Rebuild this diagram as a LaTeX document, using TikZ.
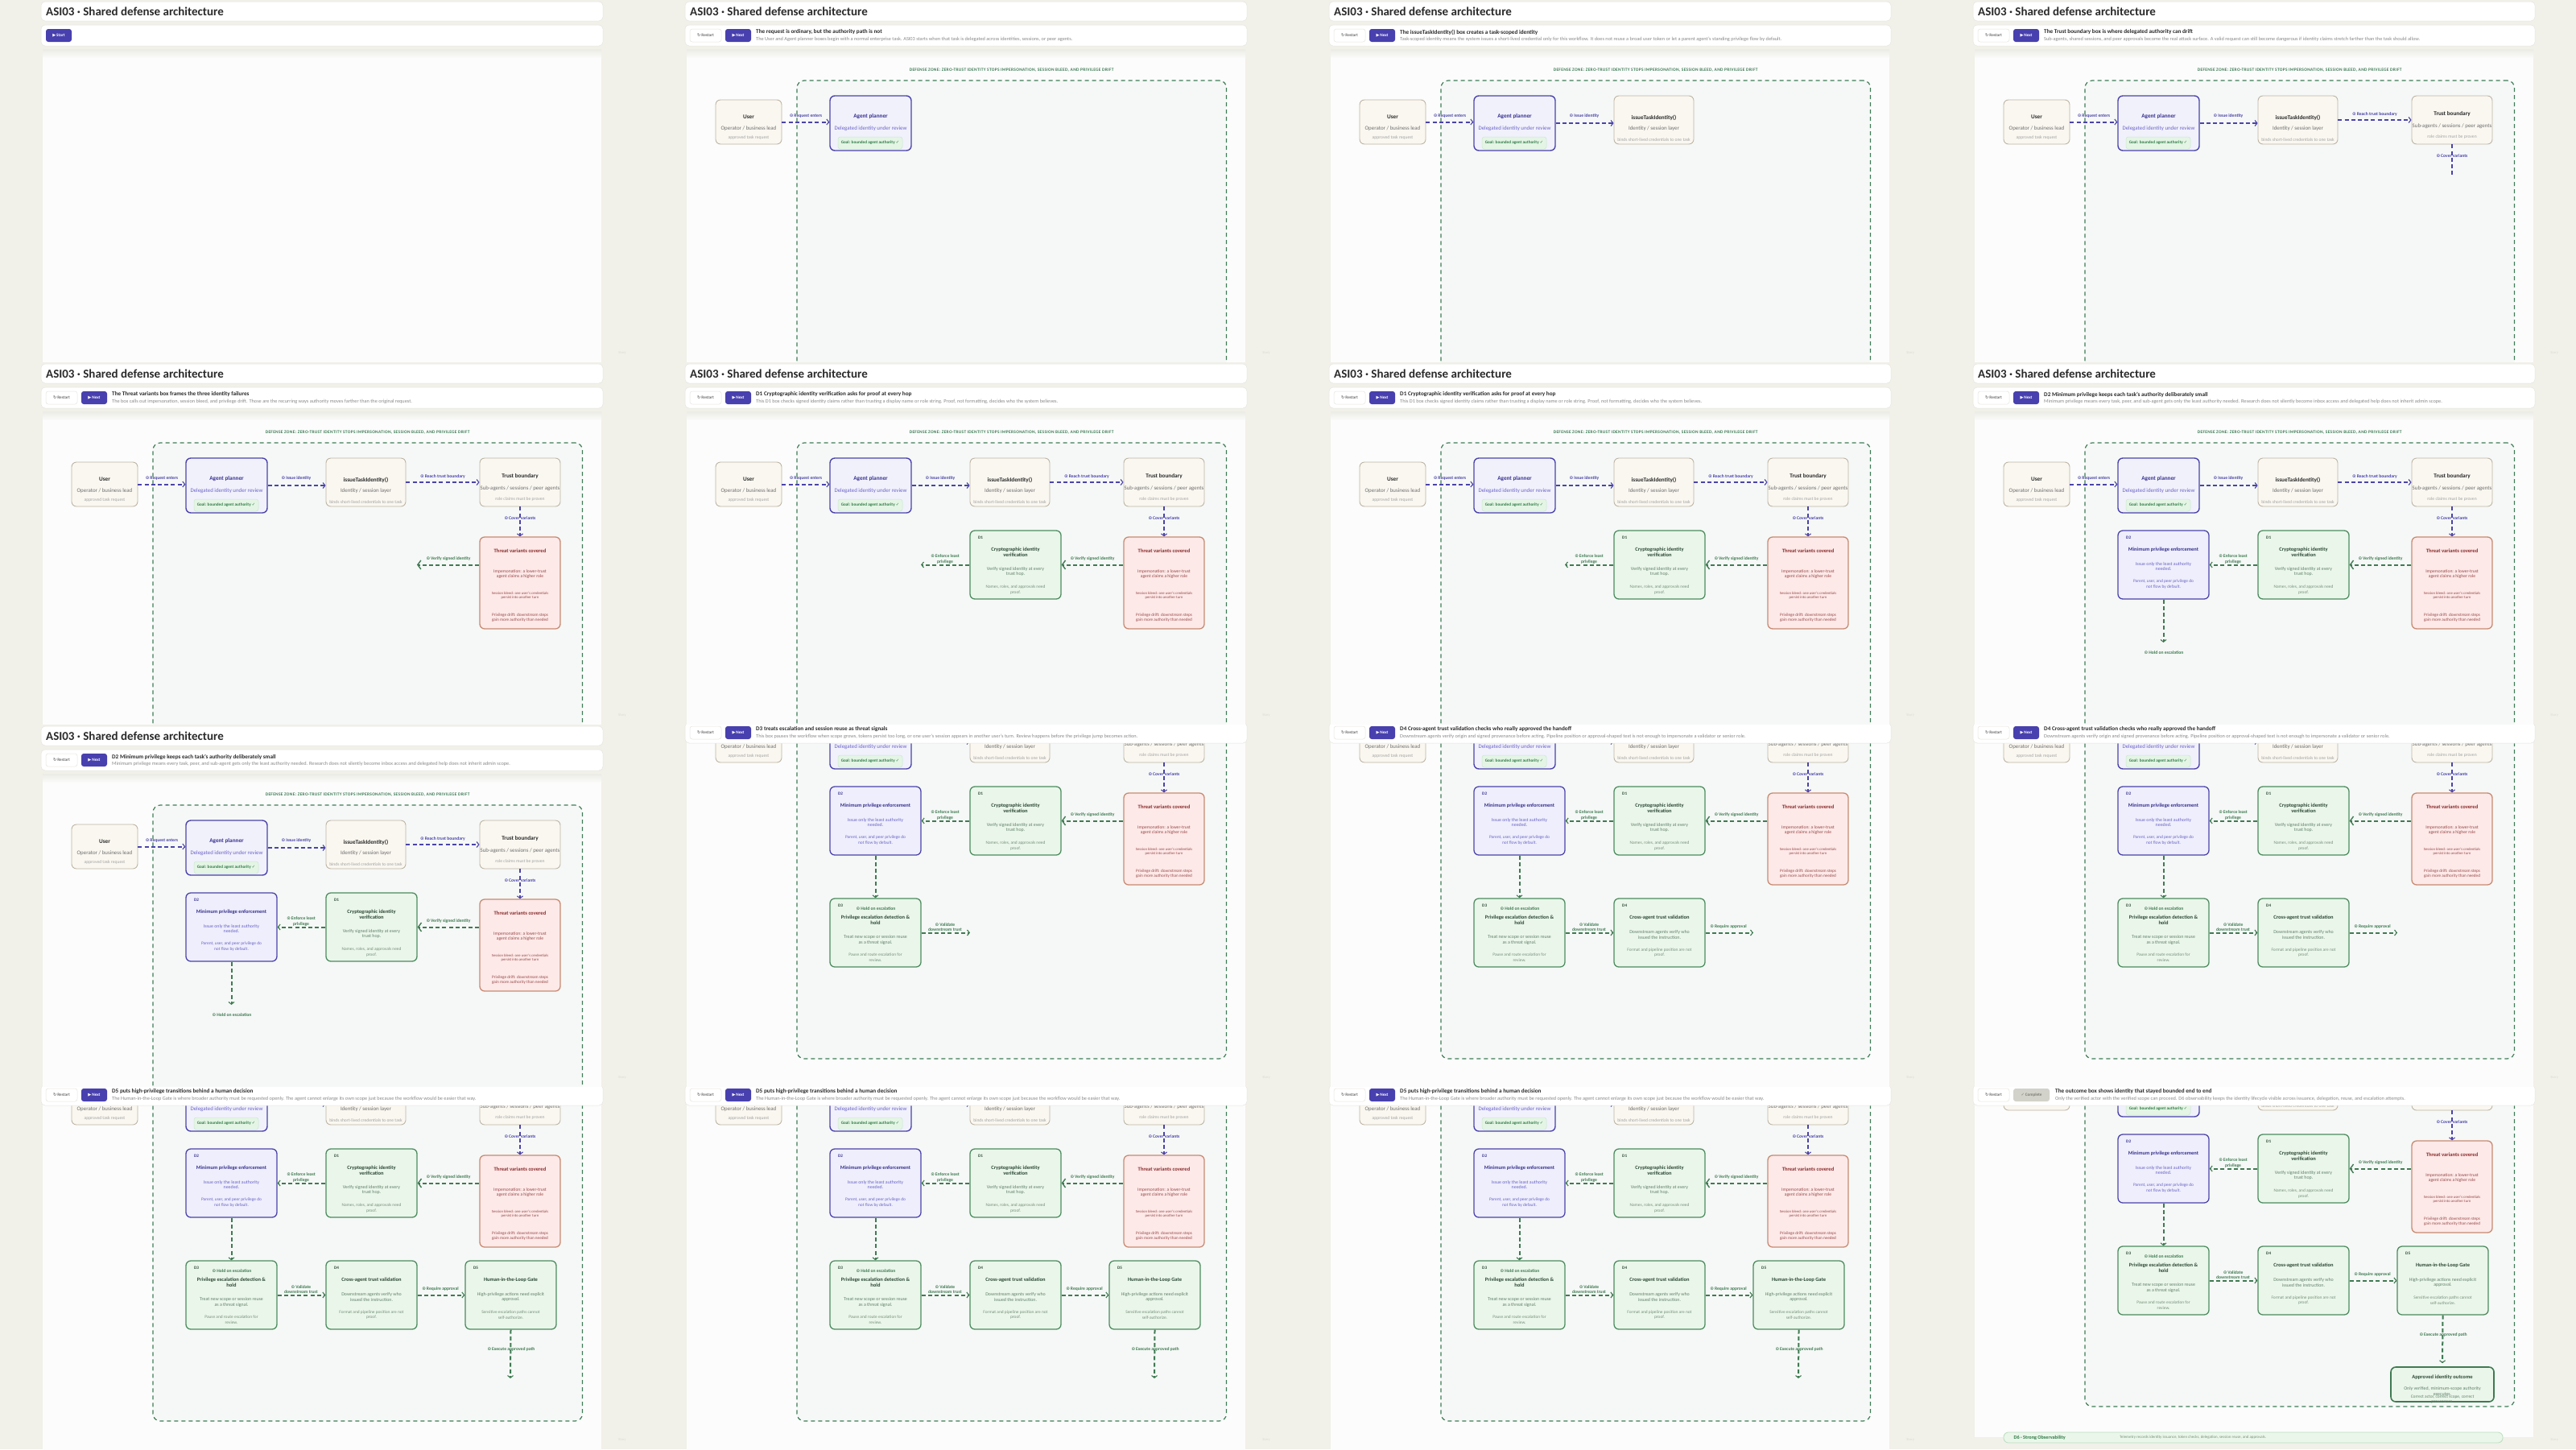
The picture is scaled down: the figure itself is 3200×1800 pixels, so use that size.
\documentclass[tikz,border=0pt]{standalone}
\usepackage{fontspec}
\setmainfont{Carlito}
\newfontfamily\symf{DejaVu Sans}
\newfontfamily\zonef[LetterSpace=6]{Carlito}
\usetikzlibrary{arrows.meta}

\definecolor{bgc}{HTML}{F1F0E9}
\definecolor{cardline}{HTML}{E6E5DE}
\definecolor{shadowc}{HTML}{ECECE6}
\definecolor{panelc}{HTML}{FBFCFB}
\definecolor{zonefill}{HTML}{F5F8F6}
\definecolor{zoneg}{HTML}{3F7C57}
\definecolor{purp}{HTML}{4B43AA}
\definecolor{nextb}{HTML}{4840AE}
\definecolor{ink}{HTML}{2A2A2A}
\definecolor{grayA}{HTML}{6E6E6E}
\definecolor{grayB}{HTML}{A3A3A3}
\definecolor{nfill}{HTML}{FAF7F0}
\definecolor{nline}{HTML}{BDB4A5}
\definecolor{afill}{HTML}{F1F1FC}
\definecolor{ptitle}{HTML}{3A3390}
\definecolor{ptext}{HTML}{6C64C6}
\definecolor{pillf}{HTML}{E4F5E5}
\definecolor{pilll}{HTML}{CBE8CE}
\definecolor{pillt}{HTML}{2E7A45}
\definecolor{tfill}{HTML}{FCE9E8}
\definecolor{tline}{HTML}{C98A72}
\definecolor{ttitle}{HTML}{8C2C2C}
\definecolor{ttext}{HTML}{9A4848}
\definecolor{gfill}{HTML}{EAF6EA}
\definecolor{gline}{HTML}{4D8C5F}
\definecolor{gtitle}{HTML}{2D4A36}
\definecolor{gtext}{HTML}{60806A}
\definecolor{gsmall}{HTML}{75907B}
\definecolor{garr}{HTML}{3F7A52}
\definecolor{dfill}{HTML}{EEEEFC}
\definecolor{subc}{HTML}{8A8A8A}
\definecolor{storyc}{HTML}{DCDBD3}
\definecolor{compf}{HTML}{D3D2CA}
\definecolor{compt}{HTML}{7D7C74}
\definecolor{d6f}{HTML}{EAF6EA}
\definecolor{d6l}{HTML}{BADDBE}

\tikzset{
 card/.style={draw=cardline, line width=0.5pt, fill=white, rounded corners=5pt, inner sep=0pt},
 btn/.style={rounded corners=3pt, inner sep=0pt, minimum height=16pt, font=\fontsize{5.2}{6}\selectfont\bfseries},
 rbtn/.style={btn, draw=cardline, line width=0.5pt, fill=white, text=grayA, minimum width=39pt},
 nbtn/.style={btn, fill=nextb, text=white, minimum width=32pt},
 cbtn/.style={btn, fill=compf, text=compt, minimum width=45pt},
 head/.style={anchor=west, inner sep=0pt, font=\fontsize{7.2}{8}\selectfont\bfseries, text=ink},
 subt/.style={anchor=west, inner sep=0pt, font=\fontsize{6.3}{7}\selectfont, text=subc},
 story/.style={inner sep=0pt, font=\fontsize{4.5}{5}\selectfont, text=storyc},
 ttlt/.style={anchor=west, inner sep=0pt, font=\fontsize{15}{16}\selectfont\bfseries, text=ink},
 zlbl/.style={inner sep=0pt, font=\zonef\fontsize{5.4}{6}\selectfont\bfseries, text=zoneg},
 zone/.style={draw=zoneg, fill=zonefill, line width=1.2pt, dash pattern=on 5pt off 4pt, rounded corners=9pt, inner sep=0pt},
 ghost/.style={inner sep=0pt, outer sep=0pt},
 nbox/.style={draw=nline, fill=nfill, line width=0.9pt, rounded corners=6pt, inner sep=0pt},
 abox/.style={draw=purp, fill=afill, line width=1.4pt, rounded corners=6pt, inner sep=0pt},
 tbox/.style={draw=tline, fill=tfill, line width=1.3pt, rounded corners=6pt, inner sep=0pt},
 gbox/.style={draw=gline, fill=gfill, line width=1.3pt, rounded corners=6pt, inner sep=0pt},
 dbox/.style={draw=purp, fill=dfill, line width=1.3pt, rounded corners=6pt, inner sep=0pt},
 obox/.style={draw=garr, fill=gfill, line width=1.6pt, rounded corners=6pt, inner sep=0pt},
 d6bar/.style={draw=d6l, fill=d6f, line width=0.8pt, rounded corners=6pt, inner sep=0pt},
 pill/.style={draw=pilll, fill=pillf, line width=0.5pt, rounded corners=3pt, inner sep=0pt, minimum width=80pt, minimum height=15pt, font=\fontsize{5.2}{6}\selectfont\bfseries, text=pillt},
 bt/.style={inner sep=0pt, font=\fontsize{7.2}{8}\selectfont\bfseries},
 st/.style={inner sep=0pt, font=\fontsize{6.9}{8}\selectfont},
 tt/.style={inner sep=0pt, font=\fontsize{5.6}{6}\selectfont},
 dtitle/.style={inner sep=0pt, align=center, font=\fontsize{6.5}{6.6}\selectfont\bfseries},
 dbody/.style={inner sep=0pt, align=center, font=\fontsize{5.9}{6.6}\selectfont},
 dsmall/.style={inner sep=0pt, align=center, font=\fontsize{5.4}{6.5}\selectfont},
 dlab/.style={anchor=west, inner sep=0pt, font=\fontsize{5.2}{6}\selectfont\bfseries},
 lblp/.style={inner sep=0pt, align=center, font=\fontsize{5.6}{6.8}\selectfont\bfseries, text=purp},
 lblg/.style={inner sep=0pt, align=center, font=\fontsize{5.6}{6.8}\selectfont\bfseries, text=garr},
 pl/.style={draw=purp, line width=2pt, dash pattern=on 5pt off 3.2pt},
 pa/.style={pl, -{Straight Barb[length=2.8pt,width=7pt,line width=1.1pt]}},
 gl/.style={draw=garr, line width=2pt, dash pattern=on 5pt off 3.2pt},
 ga/.style={gl, -{Straight Barb[length=2.8pt,width=7pt,line width=1.1pt]}},
 gab/.style={gl, -{Straight Barb[length=4pt,width=11pt,line width=1.4pt]}},
}

\newcommand\ic{{\symf ⊙}\,}
\newcommand\bx[6]{\node[#2, minimum width={#5-#3}, minimum height={#6-#4}] (#1) at ({(#3+#5)/2},{(#4+#6)/2}) {};}

\newcommand\headtext[1]{\ifcase#1\or
The request is ordinary, but the authority path is not\or
The issueTaskIdentity() box creates a task-scoped identity\or
The Trust boundary box is where delegated authority can drift\or
The Threat variants box frames the three identity failures\or
D1 Cryptographic identity verification asks for proof at every hop\or
D2 Minimum privilege keeps each task's authority deliberately small\or
D3 treats escalation and session reuse as threat signals\or
D4 Cross-agent trust validation checks who really approved the handoff\or
D5 puts high-privilege transitions behind a human decision\or
The outcome box shows identity that stayed bounded end to end\fi}

\newcommand\subtext[1]{\ifcase#1\or
The User and Agent planner boxes begin with a normal enterprise task. ASI03 starts when that task is delegated across identities, sessions, or peer agents.\or
Task-scoped identity means the system issues a short-lived credential only for this workflow. It does not reuse a broad user token or let a parent agent's standing privilege flow by default.\or
Sub-agents, shared sessions, and peer approvals become the real attack surface. A valid request can still become dangerous if identity claims stretch farther than the task should allow.\or
The box calls out impersonation, session bleed, and privilege drift. Those are the recurring ways authority moves farther than the original request.\or
This D1 box checks signed identity claims rather than trusting a display name or role string. Proof, not formatting, decides who the system believes.\or
Minimum privilege means every task, peer, and sub-agent gets only the least authority needed. Research does not silently become inbox access and delegated help does not inherit admin scope.\or
This box pauses the workflow when scope grows, tokens persist too long, or one user's session appears in another user's turn. Review happens before the privilege jump becomes action.\or
Downstream agents verify origin and signed provenance before acting. Pipeline position or approval-shaped text is not enough to impersonate a validator or senior role.\or
The Human-in-the-Loop Gate is where broader authority must be requested openly. The agent cannot enlarge its own scope just because the workflow would be easier that way.\or
Only the verified actor with the verified scope can proceed. D6 observability keeps the identity lifecycle visible across issuance, delegation, reuse, and escalation attempts.\fi}

\newcommand\ctrl[1]{%
 \node[card, minimum width=698, minimum height=26] (ctrl) at (400,44) {};
 \ifnum#1=0
  \node[nbtn] (startb) at (73,44) {{\symf ▶}\,Start};
 \else
  \node[rbtn] (rstb) at (76.5,44) {{\symf ↻}\,Restart};
  \ifnum#1=10
   \node[cbtn] (compb) at (123.5,44) {{\symf ✓}\,Complete};
   \node[head] (hd) at (153,40) {\headtext{#1}};
   \node[subt] (sb) at (153,48.5) {\subtext{#1}};
  \else
   \node[nbtn] (nextb) at (117,44) {{\symf ▶}\,Next};
   \node[head] (hd) at (139,40) {\headtext{#1}};
   \node[subt] (sb) at (139,48.5) {\subtext{#1}};
  \fi
 \fi}

\newcommand\content[1]{%
 \fill[panelc] (53,61) rectangle (747,585);
 \shade[top color=shadowc, bottom color=panelc] (53,61) rectangle (747,72);
 \ifnum#1>0
  \node[zlbl] (zl) at (456.6,86.7) {DEFENSE ZONE: ZERO-TRUST IDENTITY STOPS IMPERSONATION, SESSION BLEED, AND PRIVILEGE DRIFT};
  \bx{zone}{zone}{190}{100}{723.5}{547}
  \bx{threat}{ghost}{596}{217}{696}{331}
  \bx{d1}{ghost}{405}{209}{518}{294}
  \bx{d2}{ghost}{231}{209}{344}{294}
  \bx{d3}{ghost}{231}{348}{344}{433}
  \bx{d4}{ghost}{405}{348}{518}{433}
  \bx{d5}{ghost}{578}{348}{691}{433}
  \bx{outc}{ghost}{570}{498}{698}{541}
  \bx{user}{nbox}{89}{124}{171}{179}
  \node[bt, text=ink] (ut1) at (130,145) {User};
  \node[st, text=grayA] (ut2) at (130,160) {Operator / business lead};
  \node[tt, text=grayB] (ut3) at (130,171) {approved task request};
  \bx{agent}{abox}{231}{119}{332}{187}
  \node[bt, text=ptitle] (at1) at (281.5,145) {Agent planner};
  \node[st, text=ptext] (at2) at (281.5,160) {Delegated identity under review};
  \node[pill] (at3) at (281,177.5) {Goal: bounded agent authority {\symf ✓}};
 \fi
 \ifnum#1>1
  \bx{issue}{nbox}{405}{119}{504}{179}
  \node[bt, text=ink] (it1) at (454.5,146) {issueTaskIdentity()};
  \node[st, text=grayA] (it2) at (454.5,160) {Identity / session layer};
  \node[tt, text=grayB] (it3) at (454.5,174) {binds short-lived credentials to one task};
 \fi
 \ifnum#1>2
  \bx{trust}{nbox}{596}{119}{696}{179}
  \node[bt, text=ink] (bt1) at (646,142) {Trust boundary};
  \node[st, text=grayA] (bt2) at (646,157) {Sub-agents / sessions / peer agents};
  \node[tt, text=grayB] (bt3) at (646,170) {role claims must be proven};
 \fi
 \ifnum#1>3
  \bx{threat}{tbox}{596}{217}{696}{331}
  \node[inner sep=0pt, font=\fontsize{6.6}{7}\selectfont\bfseries, text=ttitle] (th0) at (646,234) {Threat variants covered};
  \node[inner sep=0pt, align=center, font=\fontsize{5.6}{6.3}\selectfont, text=ttext] (th1) at (646,263) {Impersonation: a lower-trust\\agent claims a higher role};
  \node[inner sep=0pt, align=center, font=\fontsize{4.7}{5.3}\selectfont, text=ttext] (th2) at (646,289.7) {Session bleed: one user's credentials\\persist into another turn};
  \node[inner sep=0pt, align=center, font=\fontsize{5.2}{6}\selectfont, text=ttext] (th3) at (646,317.3) {Privilege drift: downstream steps\\gain more authority than needed};
 \fi
 \ifnum#1>4
  \bx{d1}{gbox}{405}{209}{518}{294}
  \node[dlab, text=gtitle] (d1l) at (415,218) {D1};
  \node[dtitle, text=gtitle] (d1t) at (461.5,236) {Cryptographic identity\\verification};
  \node[dbody, text=gtext] (d1b) at (461.5,260) {Verify signed identity at every\\trust hop.};
  \node[dsmall, text=gsmall] (d1s) at (461.5,282.3) {Names, roles, and approvals need\\proof.};
 \fi
 \ifnum#1>5
  \bx{d2}{dbox}{231}{209}{344}{294}
  \node[dlab, text=ptitle] (d2l) at (241,218) {D2};
  \node[dtitle, text=ptitle] (d2t) at (287.5,233) {Minimum privilege enforcement};
  \node[dbody, text=ptext] (d2b) at (287.5,253.5) {Issue only the least authority\\needed.};
  \node[dsmall, text=ptext] (d2s) at (287.5,275.7) {Parent, user, and peer privilege do\\not flow by default.};
 \fi
 \ifnum#1>6
  \bx{d3}{gbox}{231}{348}{344}{433}
  \node[dlab, text=gtitle] (d3l) at (241,357) {D3};
  \node[dtitle, text=gtitle] (d3t) at (287.5,375) {Privilege escalation detection \&\\hold};
  \node[dbody, text=gtext] (d3b) at (287.5,399.3) {Treat new scope or session reuse\\as a threat signal.};
  \node[dsmall, text=gsmall] (d3s) at (287.5,421) {Pause and route escalation for\\review.};
 \fi
 \ifnum#1>7
  \bx{d4}{gbox}{405}{348}{518}{433}
  \node[dlab, text=gtitle] (d4l) at (415,357) {D4};
  \node[dtitle, text=gtitle] (d4t) at (461.5,372) {Cross-agent trust validation};
  \node[dbody, text=gtext] (d4b) at (461.5,392.7) {Downstream agents verify who\\issued the instruction.};
  \node[dsmall, text=gsmall] (d4s) at (461.5,415) {Format and pipeline position are not\\proof.};
 \fi
 \ifnum#1>8
  \bx{d5}{gbox}{578}{348}{691}{433}
  \node[dlab, text=gtitle] (d5l) at (588,357) {D5};
  \node[dtitle, text=gtitle] (d5t) at (634.5,372) {Human-in-the-Loop Gate};
  \node[dbody, text=gtext] (d5b) at (634.5,392.7) {High-privilege actions need explicit\\approval.};
  \node[dsmall, text=gsmall] (d5s) at (634.5,415) {Sensitive escalation paths cannot\\self-authorize.};
 \fi
 \ifnum#1>9
  \bx{outc}{obox}{570}{498}{698}{541}
  \node[inner sep=0pt, font=\fontsize{6.6}{7}\selectfont\bfseries, text=gtitle] (o1) at (634,511) {Approved identity outcome};
  \node[dbody, text=gtext] (o2) at (634,527.7) {Only verified, minimum-scope authority\\executes.};
  \node[dsmall, text=gtext] (o3) at (634,538.3) {Correct actor, correct scope, correct\\provenance.};
  \bx{d6}{d6bar}{89}{579}{709}{592}
  \node[anchor=west, inner sep=0pt, font=\fontsize{6.2}{7}\selectfont\bfseries, text=pillt] (d6t) at (101.5,585.5) {D6 · Strong Observability};
  \node[anchor=west, inner sep=0pt, font=\fontsize{4.9}{5}\selectfont, text=gsmall] (d6d) at (233,585.5) {Telemetry records identity issuance, token checks, delegation, session reuse, and approvals.};
 \fi
 % connectors
 \ifnum#1>0
  \draw[pa] (user.east) -- (agent.west |- user.east);
  \node[lblp] (l1) at (201,144) {\ic Request enters};
 \fi
 \ifnum#1>1
  \draw[pa] (agent.east) -- (issue.west |- agent.east);
  \node[lblp] (l2) at (368,144) {\ic Issue identity};
 \fi
 \ifnum#1=3
  \draw[pl] (trust.south) -- (threat.north);
 \fi
 \ifnum#1>2
  \draw[pa] (issue.east) -- (trust.west);
  \node[lblp] (l3) at (550,142) {\ic Reach trust boundary};
  \node[lblp] (l4) at (646,194) {\ic Cover variants};
 \fi
 \ifnum#1>3
  \draw[pa] (trust.south) -- (threat.north);
  \draw[gab] (threat.west |- d1.east) -- (d1.east);
  \node[lblg] (l5) at (557,244) {\ic Verify signed identity};
 \fi
 \ifnum#1>4
  \draw[ga] (d1.west) -- (d2.east);
  \node[lblg] (l6) at (374,244.5) {\ic Enforce least\\privilege};
 \fi
 \ifnum#1>5
  \draw[ga] (d2.south) -- (d3.north);
  \node[lblg] (l7) at (288,361) {\ic Hold on escalation};
 \fi
 \ifnum#1>6
  \draw[ga] (d3.east) -- (d4.west);
  \node[lblg] (l8) at (374,383.5) {\ic Validate\\downstream trust};
 \fi
 \ifnum#1>7
  \draw[ga] (d4.east) -- (d5.west);
  \node[lblg] (l9) at (547,383) {\ic Require approval};
 \fi
 \ifnum#1>8
  \draw[ga] (d5.south) -- ([yshift=4pt]outc.north);
  \node[lblg] (l10) at (635,458) {\ic Execute approved path};
 \fi
}

% col, row, step, scroll
\newcommand\fr[4]{%
 \begin{scope}[shift={(#1*800,#2*450)}]
  \begin{scope}
   \clip (0,0) rectangle (800,450);
   \fill[bgc] (0,0) rectangle (800,450);
   \node[story] (story) at (773,438) {Story};
   \begin{scope}[yshift=#4pt]
    \node[card, minimum width=698, minimum height=24] (tcard) at (400,14) {};
    \node[ttlt] (ttl) at (57,14.5) {ASI03 · Shared defense architecture};
    \ifnum#4=0 \ctrl{#3}\fi
    \content{#3}
   \end{scope}
   \ifnum#4>0
    \begin{scope}[yshift=34pt]
     \ctrl{#3}
    \end{scope}
   \fi
  \end{scope}
 \end{scope}}

\begin{document}
\begin{tikzpicture}[x=1pt, y=-1pt]
\useasboundingbox (0,0) rectangle (3200,1800);
\fr{0}{0}{0}{0}
\fr{1}{0}{1}{0}
\fr{2}{0}{2}{0}
\fr{3}{0}{3}{0}
\fr{0}{1}{4}{0}
\fr{1}{1}{5}{0}
\fr{2}{1}{5}{0}
\fr{3}{1}{6}{0}
\fr{0}{2}{6}{0}
\fr{1}{2}{7}{132}
\fr{2}{2}{8}{132}
\fr{3}{2}{8}{132}
\fr{0}{3}{9}{132}
\fr{1}{3}{9}{132}
\fr{2}{3}{9}{132}
\fr{3}{3}{10}{150}
\end{tikzpicture}
\end{document}
